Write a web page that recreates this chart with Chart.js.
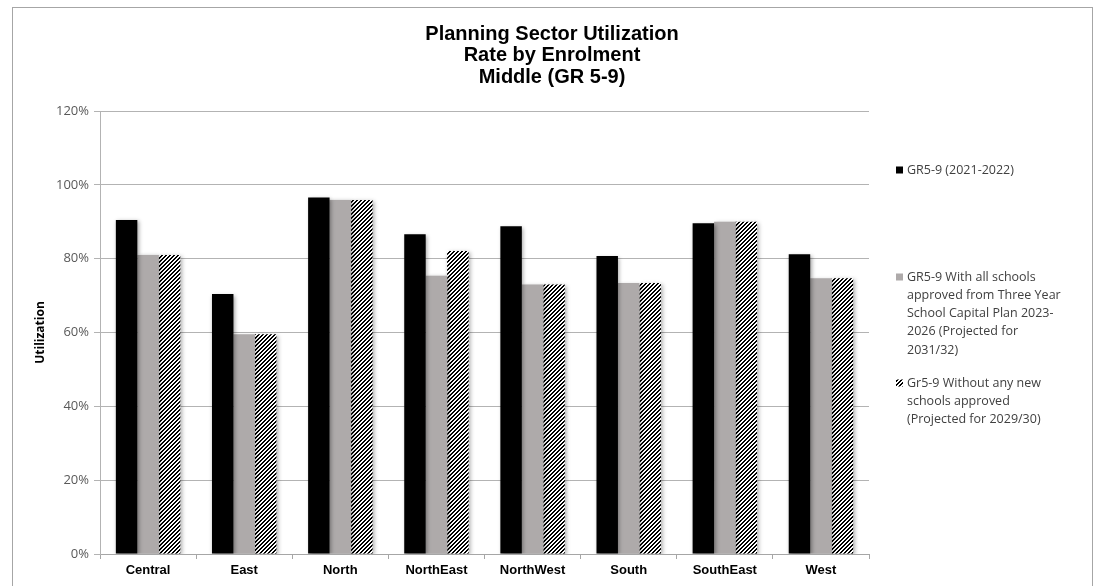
<!DOCTYPE html>
<html>
<head>
<meta charset="utf-8">
<script src="https://cdn.jsdelivr.net/npm/chart.js@4"></script>
<style>
  body { margin: 0; background: #fff; }
  #wrap { position: relative; width: 1095px; height: 586px; overflow: hidden; }
  #frame { position: absolute; left: 12px; top: 7px; width: 1079px; height: 620px; border: 1px solid #a6a6a6; pointer-events: none; }
  canvas { position: absolute; left: 0; top: 0; }
</style>
</head>
<body>
<div id="wrap">
  <canvas id="chart" width="1095" height="586"></canvas>
  <div id="frame"></div>
</div>
<script>
const titleLines = ['Planning Sector Utilization', 'Rate by Enrolment', 'Middle (GR 5-9)'];
const sectors = ['Central', 'East', 'North', 'NorthEast', 'NorthWest', 'South', 'SouthEast', 'West'];
const seriesLabels = [
  'GR5-9 (2021-2022)',
  'GR5-9 With all schools approved from Three Year School Capital Plan 2023-2026 (Projected for 2031/32)',
  'Gr5-9 Without any new schools approved (Projected for 2029/30)'
];
const current = [90.5, 70.4, 96.6, 86.6, 88.8, 80.7, 89.6, 81.2];
const withApproved = [81.0, 59.5, 95.9, 75.4, 73.0, 73.4, 90.0, 74.7];
const withoutNew = [81.0, 59.5, 95.9, 82.1, 73.0, 73.4, 90.0, 74.7];
const yTicks = [0, 20, 40, 60, 80, 100, 120];

// dark upward diagonal hatch
function makeHatch() {
  const c = document.createElement('canvas');
  c.width = 4; c.height = 4;
  const g = c.getContext('2d');
  g.fillStyle = '#fff';
  g.fillRect(0, 0, 4, 4);
  g.fillStyle = '#000';
  for (let x = 0; x < 4; x++) {
    for (let y = 0; y < 4; y++) {
      if ((x + y) % 4 < 2) g.fillRect(x, y, 1, 1);
    }
  }
  return g.createPattern(c, 'repeat');
}
const hatch = makeHatch();
const fills = ['#000000', '#aeaaaa', hatch];

// soft drop shadow under the bars
const barShadow = {
  id: 'barShadow',
  beforeDatasetsDraw(chart) {
    const ctx = chart.ctx;
    ctx.save();
    ctx.shadowColor = 'rgba(0,0,0,0.35)';
    ctx.shadowBlur = 4;
    ctx.shadowOffsetX = 1.5;
    ctx.shadowOffsetY = 1.5;
  },
  afterDatasetsDraw(chart) {
    chart.ctx.restore();
  }
};

// title centred on the frame
const frameTitle = {
  id: 'frameTitle',
  afterDraw(chart) {
    const ctx = chart.ctx;
    ctx.save();
    ctx.fillStyle = '#000';
    ctx.font = 'bold 20px "Liberation Sans", Arial, sans-serif';
    ctx.textAlign = 'center';
    ctx.textBaseline = 'middle';
    titleLines.forEach((t, i) => ctx.fillText(t, 552, 34 + i * 21.5));
    ctx.restore();
  }
};

function wrapText(ctx, text, maxW) {
  const words = text.split(' ');
  const lines = [];
  let line = '';
  for (let w of words) {
    const test = line ? line + ' ' + w : w;
    if (ctx.measureText(test).width <= maxW) { line = test; continue; }
    const h = w.indexOf('-');
    if (h > 0 && h < w.length - 1) {
      const head = w.slice(0, h + 1);
      const t2 = line ? line + ' ' + head : head;
      if (ctx.measureText(t2).width <= maxW) {
        lines.push(t2);
        line = w.slice(h + 1);
        continue;
      }
    }
    if (line) lines.push(line);
    line = w;
  }
  if (line) lines.push(line);
  return lines;
}

// legend on the right, entries spread down the side
const sideLegend = {
  id: 'sideLegend',
  afterDraw(chart, args, opts) {
    const ctx = chart.ctx;
    ctx.save();
    ctx.font = '12.5px "Open Sans", sans-serif';
    ctx.textBaseline = 'middle';
    chart.data.datasets.forEach((ds, i) => {
      const y0 = opts.tops[i];
      ctx.fillStyle = ds.backgroundColor;
      ctx.fillRect(opts.x, y0 - 3.5, 7, 7);
      ctx.fillStyle = '#404040';
      wrapText(ctx, ds.label, opts.maxWidth).forEach((ln, k) => {
        ctx.fillText(ln, opts.x + 11, y0 + k * opts.lineHeight);
      });
    });
    ctx.restore();
  }
};

new Chart(document.getElementById('chart'), {
  type: 'bar',
  data: {
    labels: sectors,
    datasets: [current, withApproved, withoutNew].map((d, i) => ({
      label: seriesLabels[i],
      data: d,
      backgroundColor: fills[i],
      borderWidth: 0,
      categoryPercentage: 0.67,
      barPercentage: 1.0
    }))
  },
  options: {
    responsive: false,
    animation: false,
    layout: { padding: { top: 111, right: 226, bottom: 0, left: 33 } },
    plugins: {
      legend: { display: false },
      tooltip: { enabled: false },
      sideLegend: { x: 896, tops: [170, 277, 383], lineHeight: 18.3, maxWidth: 158 }
    },
    scales: {
      x: {
        grid: { drawOnChartArea: false, offset: true, tickLength: 5, color: '#a6a6a6' },
        border: { color: '#a6a6a6' },
        ticks: { color: '#000', font: { family: '"Liberation Sans", Arial, sans-serif', size: 13, weight: 'bold' }, padding: 4 },
        afterFit(s) { s.height = 32; }
      },
      y: {
        min: 0,
        max: 120,
        afterBuildTicks(s) { s.ticks = yTicks.map(v => ({ value: v })); },
        grid: { color: '#b3b3b3', tickLength: 6 },
        border: { color: '#b3b3b3' },
        ticks: {
          color: '#595959',
          font: { family: '"Open Sans", sans-serif', size: 13 },
          padding: 5,
          callback: v => v + '%'
        },
        title: {
          display: true,
          text: 'Utilization',
          color: '#000',
          font: { family: '"Open Sans", sans-serif', size: 12, weight: 'bold' },
          padding: { top: 0, bottom: 10 }
        },
        afterFit(s) { s.width = 67; }
      }
    }
  },
  plugins: [barShadow, frameTitle, sideLegend]
});
</script>
</body>
</html>
